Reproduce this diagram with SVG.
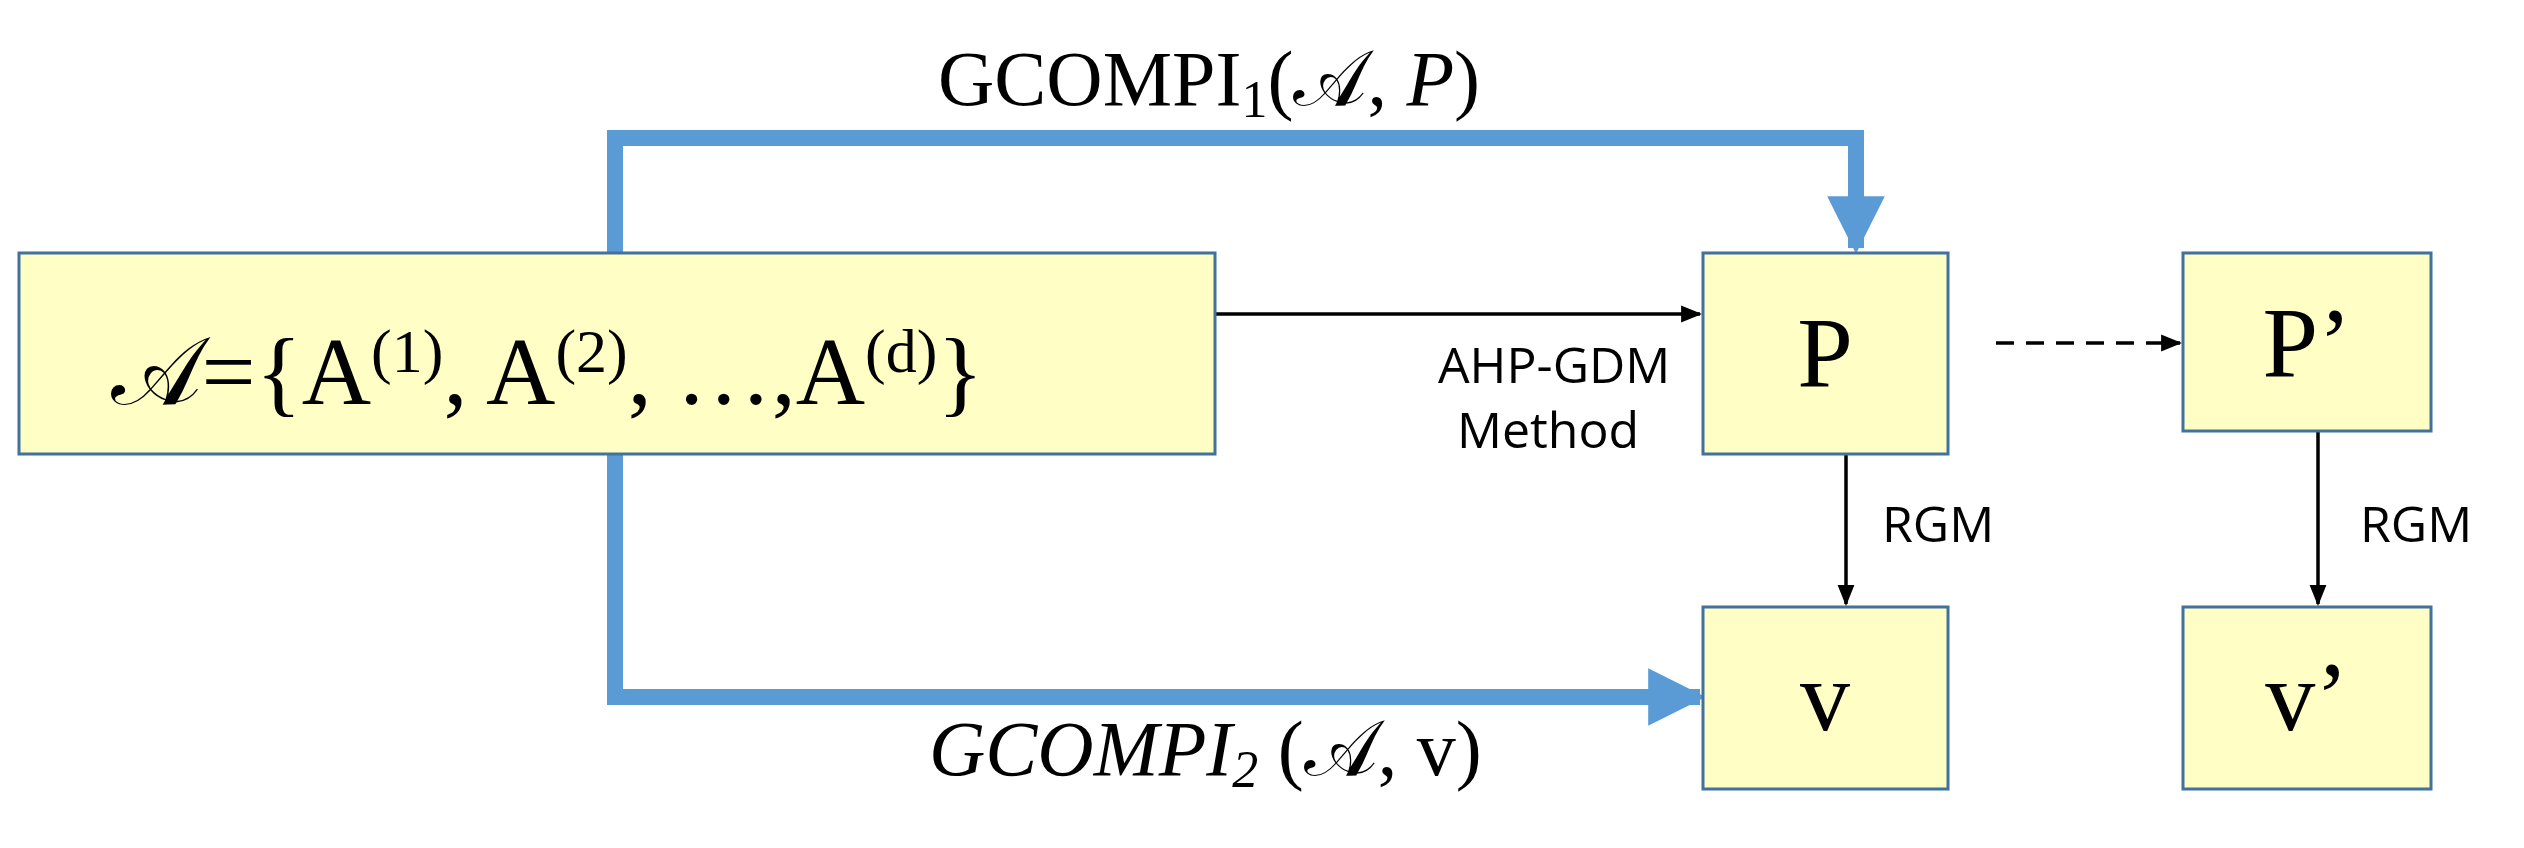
<svg xmlns="http://www.w3.org/2000/svg" width="2524" height="848" viewBox="0 0 2524 848">
<style>
.box{fill:#ffffc5;stroke:#41719c;stroke-width:3}
.ser{font-family:"Liberation Serif","DejaVu Serif",serif;fill:#000}
.san{font-family:"Open Sans","Liberation Sans",sans-serif;font-size:50px;fill:#000}
.blue{fill:none;stroke:#5b9bd5;stroke-width:16}
.blk{fill:none;stroke:#000;stroke-width:3.5}
</style>
<defs>
<marker id="bh" viewBox="0 0 10 10" refX="9" refY="5" markerWidth="3.6" markerHeight="3.6" orient="auto" markerUnits="strokeWidth"><path d="M0,0L10,5L0,10z" fill="#5b9bd5"/></marker>
<marker id="kh" viewBox="0 0 10 10" refX="9" refY="5" markerWidth="6" markerHeight="6" orient="auto" markerUnits="strokeWidth"><path d="M0,1L10,5L0,9z" fill="#000"/></marker>
</defs>
<g id="connectors">
<path class="blue" d="M615,253V138H1856V248" marker-end="url(#bh)"/>
<path class="blue" d="M615,454V697H1700" marker-end="url(#bh)"/>
<path class="blk" d="M1215,314H1700" marker-end="url(#kh)"/>
<path class="blk" d="M1996,343H2180" stroke-dasharray="18,12" stroke-width="4" marker-end="url(#kh)"/>
<path class="blk" d="M1846,454V604" marker-end="url(#kh)"/>
<path class="blk" d="M2318,431V604" marker-end="url(#kh)"/>
<text class="san" x="1438" y="383">AHP-GDM</text>
<text class="san" x="1457" y="448">Method</text>
<text class="san" x="1882" y="542">RGM</text>
<text class="san" x="2360" y="542">RGM</text>
<text class="ser" x="938" y="105" font-size="78">GCOMPI<tspan font-size="52" dy="12">1</tspan><tspan dy="-12">(𝒜, </tspan><tspan font-style="italic">P</tspan>)</text>
<text class="ser" x="929" y="775" font-size="78" font-style="italic">GCOMPI<tspan font-size="52" dy="12">2</tspan><tspan dy="-12" font-style="normal"> (𝒜, v)</tspan></text>
</g>
<g id="A"><rect class="box" x="19" y="253" width="1196" height="201"/>
<text class="ser" x="547" y="404" font-size="96" text-anchor="middle">𝒜={A<tspan font-size="62" dy="-32">(1)</tspan><tspan dy="32">, A</tspan><tspan font-size="62" dy="-32">(2)</tspan><tspan dy="32">, …,A</tspan><tspan font-size="62" dy="-32">(d)</tspan><tspan dy="32">}</tspan></text></g>
<g id="P"><rect class="box" x="1703" y="253" width="245" height="201"/><text class="ser" x="1825" y="386" font-size="100" text-anchor="middle">P</text></g>
<g id="P2"><rect class="box" x="2183" y="253" width="248" height="178"/><text class="ser" x="2307" y="376" font-size="100" text-anchor="middle">P’</text></g>
<g id="v"><rect class="box" x="1703" y="607" width="245" height="182"/><text class="ser" x="1825" y="730" font-size="100" text-anchor="middle">v</text></g>
<g id="v2"><rect class="box" x="2183" y="607" width="248" height="182"/><text class="ser" x="2307" y="730" font-size="100" text-anchor="middle">v’</text></g>
</svg>
